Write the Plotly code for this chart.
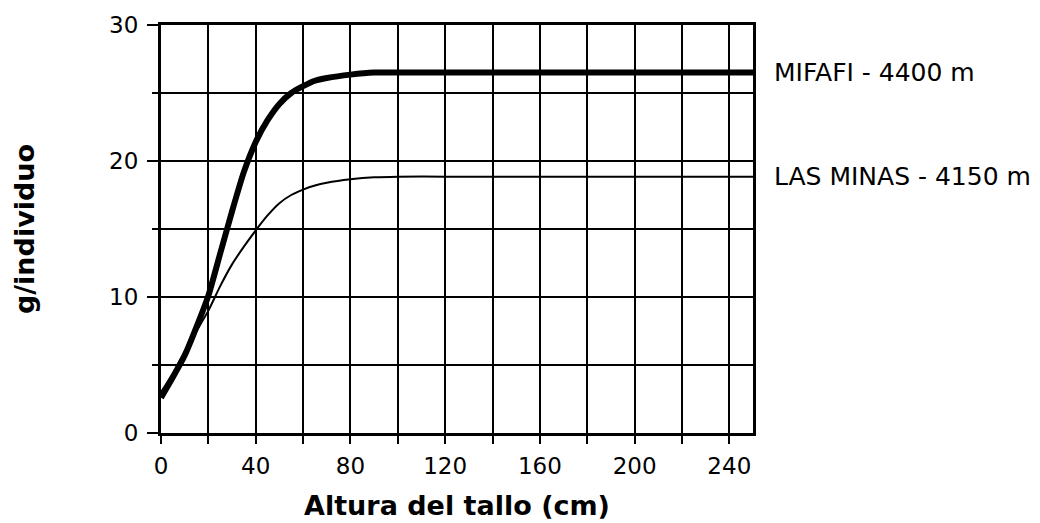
import plotly.graph_objects as go

# Data
altura = [0, 5, 10, 15, 20, 25, 30, 35, 40, 45, 50, 55, 60, 65, 70, 80, 90, 100, 120, 160, 200, 250]
mifafi = [2.6, 4.1, 5.7, 7.8, 10.1, 13.2, 16.3, 19.2, 21.4, 23.0, 24.2, 25.0, 25.5, 25.9, 26.1, 26.35, 26.5, 26.5, 26.5, 26.5, 26.5, 26.5]
las_minas = [3.0, 4.4, 6.0, 7.5, 9.0, 10.8, 12.4, 13.7, 14.9, 16.0, 16.9, 17.5, 17.9, 18.2, 18.4, 18.65, 18.8, 18.85, 18.85, 18.85, 18.85, 18.85]

series_names = ["MIFAFI - 4400 m", "LAS MINAS - 4150 m"]
x_tick_vals = [0, 40, 80, 120, 160, 200, 240]
y_tick_vals = [0, 10, 20, 30]

fig = go.Figure()
fig.add_trace(go.Scatter(x=altura, y=las_minas, mode="lines", name=series_names[1],
                         line=dict(color="black", width=2, shape="spline", smoothing=0.6)))
fig.add_trace(go.Scatter(x=altura, y=mifafi, mode="lines", name=series_names[0],
                         line=dict(color="black", width=6, shape="spline", smoothing=0.6)))

tick_font = dict(family="DejaVu Sans", size=23, color="black")

fig.update_layout(
    width=1040, height=523,
    margin=dict(l=161, r=287, t=25, b=90),
    paper_bgcolor="white", plot_bgcolor="white",
    showlegend=False,
    xaxis=dict(
        range=[0, 250], tickmode="array", tickvals=x_tick_vals,
        ticks="outside", ticklen=8, tickwidth=2, tickcolor="black",
        showgrid=True, gridcolor="black", gridwidth=2,
        minor=dict(dtick=20, tick0=0, ticks="outside", ticklen=8, tickwidth=2, tickcolor="black",
                   showgrid=True, gridcolor="black", gridwidth=2),
        showline=True, linecolor="black", linewidth=3, mirror=True,
        zeroline=False, tickfont=tick_font, ticklabelstandoff=2,
        automargin=False,
        title=dict(text="Altura del tallo (cm)",
                   font=dict(family="DejaVu Sans", size=27, color="black", weight="bold"),
                   standoff=19),
    ),
    yaxis=dict(
        range=[0, 30], tickmode="array", tickvals=y_tick_vals,
        ticks="outside", ticklen=11, tickwidth=2, tickcolor="black",
        showgrid=True, gridcolor="black", gridwidth=2,
        minor=dict(dtick=5, tick0=0, ticks="outside", ticklen=6, tickwidth=2, tickcolor="black",
                   showgrid=True, gridcolor="black", gridwidth=2),
        showline=True, linecolor="black", linewidth=3, mirror=True,
        zeroline=False, tickfont=tick_font, ticklabelstandoff=4,
        automargin=False,
        title=dict(text="g/individuo",
                   font=dict(family="DejaVu Sans", size=27, color="black", weight="bold"),
                   standoff=67),
    ),
)

fig.add_annotation(x=1.032, xref="paper", y=mifafi[-1], yref="y", text=series_names[0],
                   showarrow=False, xanchor="left", yanchor="middle",
                   font=dict(family="DejaVu Sans", size=25, color="black"))
fig.add_annotation(x=1.032, xref="paper", y=las_minas[-1], yref="y", text=series_names[1],
                   showarrow=False, xanchor="left", yanchor="middle",
                   font=dict(family="DejaVu Sans", size=25, color="black"))

fig.write_html("out.html")
